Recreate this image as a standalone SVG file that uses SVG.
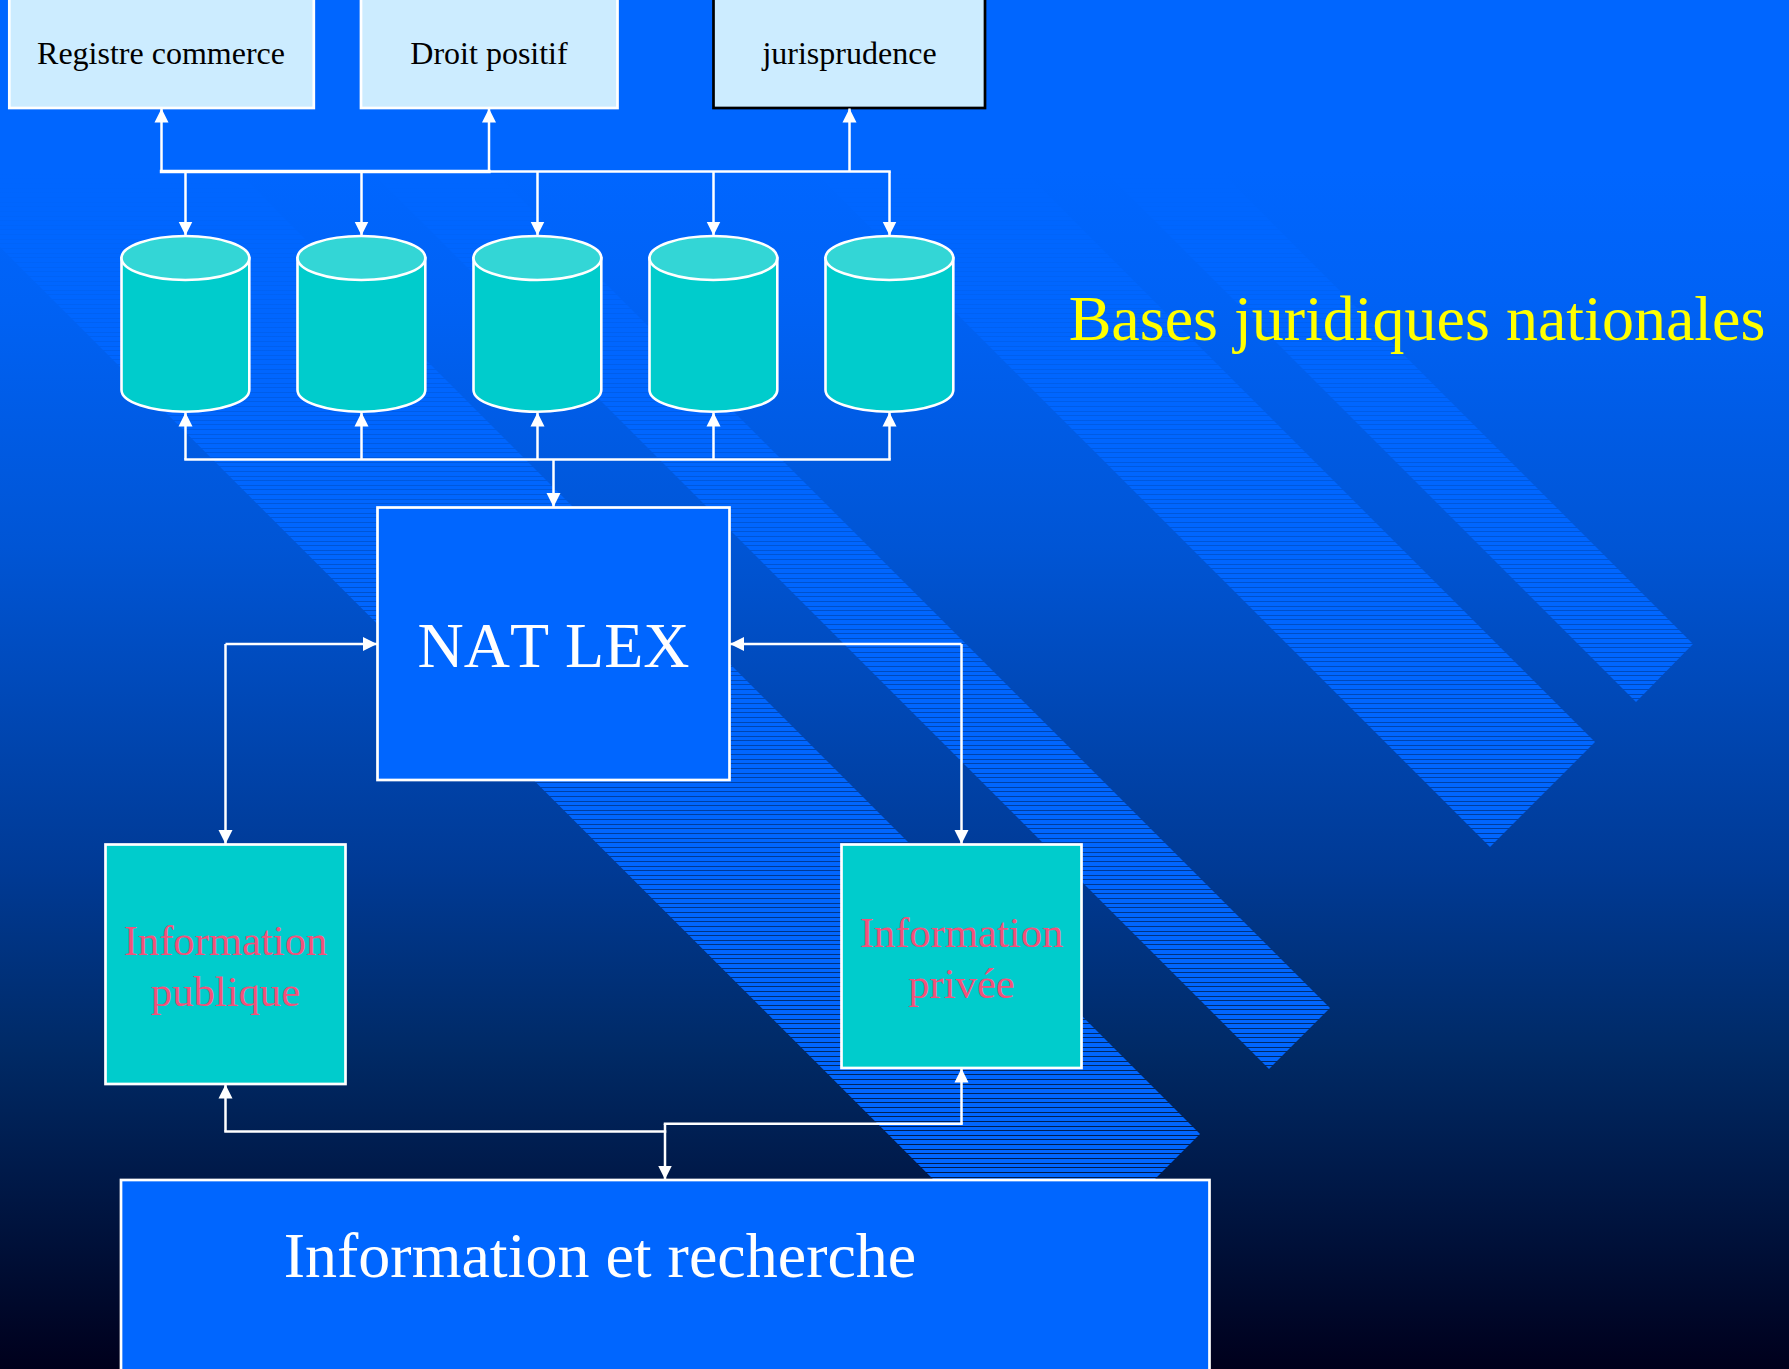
<svg xmlns="http://www.w3.org/2000/svg" width="1789" height="1369" viewBox="0 0 1789 1369">
<defs>
<linearGradient id="bg" gradientUnits="userSpaceOnUse" x1="0" y1="0" x2="0" y2="1369"><stop offset="0" stop-color="#0066ff"/><stop offset="0.125" stop-color="#0066ff"/><stop offset="0.22" stop-color="#0062f5"/><stop offset="0.4" stop-color="#0055d5"/><stop offset="0.635" stop-color="#003a95"/><stop offset="0.767" stop-color="#002a66"/><stop offset="0.855" stop-color="#001a4a"/><stop offset="1" stop-color="#00001c"/></linearGradient>
<pattern id="stripes" patternUnits="userSpaceOnUse" x="0" y="2" width="10" height="65"><path fill="#0066ff" shape-rendering="crispEdges" d="M0 1h10v4H0zM0 6h10v3H0zM0 10h10v4H0zM0 15h10v4H0zM0 20h10v3H0zM0 24h10v4H0zM0 29h10v3H0zM0 33h10v4H0zM0 38h10v4H0zM0 43h10v3H0zM0 47h10v4H0zM0 52h10v4H0zM0 57h10v3H0zM0 61h10v4H0z"/></pattern>
<marker id="ah" markerUnits="userSpaceOnUse" markerWidth="15" markerHeight="15" refX="14" refY="7.5" orient="auto"><path d="M0 0.500L14 7.500L0 14.500Z" fill="#fff"/></marker>
</defs>
<style>
.serif{font-family:"Liberation Serif","Times New Roman",serif;text-anchor:middle;font-kerning:none}
.src{fill:#ccecff;stroke:#fff;stroke-width:2.7}
.wbox{stroke:#fff;stroke-width:2.7}
.conn{fill:none;stroke:#fff;stroke-width:2.5;stroke-linecap:square}
.arr{marker-end:url(#ah);stroke-linecap:butt}
.cyl{fill:#00cccc;stroke:#fff;stroke-width:2.6}
.cap{fill:#33d6d6;stroke:#fff;stroke-width:2.6}
.t32{font-size:32px;fill:#000}
.t64{font-size:64px;fill:#fff}
.t43{font-size:42.67px;fill:#f2527a}
</style>
<rect width="1789" height="1369" fill="url(#bg)"/>
<g id="bands" fill="url(#stripes)">
<polygon points="1049,0 1693,644 1636,702 934,0"/>
<polygon points="853,0 1595,742 1490,847 643,0"/>
<polygon points="322,0 1330,1008 1269,1069 200,0"/>
<polygon points="66,0 1200,1134 1044,1290 0,247 0,0"/>
</g>
<g id="registre"><rect class="src" x="9.300" y="-10" width="304.500" height="118"/><text class="serif t32" x="161" y="63.500">Registre commerce</text></g>
<g id="droit"><rect class="src" x="361" y="-10" width="256.500" height="118"/><text class="serif t32" x="489" y="63.500">Droit positif</text></g>
<g id="jurisprudence"><rect class="src" style="stroke:#000" x="713.500" y="-10" width="271.500" height="118"/><text class="serif t32" x="849.500" y="63.500">jurisprudence</text></g>
<g id="cyl1"><path class="cyl" d="M121.500 258V390C121.500 402 150 411.700 185.400 411.700S249.300 402 249.300 390V258Z"/><ellipse class="cap" cx="185.400" cy="258" rx="63.900" ry="22"/></g>
<g id="cyl2"><path class="cyl" d="M297.500 258V390C297.500 402 326 411.700 361.400 411.700S425.300 402 425.300 390V258Z"/><ellipse class="cap" cx="361.400" cy="258" rx="63.900" ry="22"/></g>
<g id="cyl3"><path class="cyl" d="M473.500 258V390C473.500 402 502 411.700 537.400 411.700S601.300 402 601.300 390V258Z"/><ellipse class="cap" cx="537.400" cy="258" rx="63.900" ry="22"/></g>
<g id="cyl4"><path class="cyl" d="M649.500 258V390C649.500 402 678 411.700 713.400 411.700S777.300 402 777.300 390V258Z"/><ellipse class="cap" cx="713.400" cy="258" rx="63.900" ry="22"/></g>
<g id="cyl5"><path class="cyl" d="M825.500 258V390C825.500 402 854 411.700 889.400 411.700S953.300 402 953.300 390V258Z"/><ellipse class="cap" cx="889.400" cy="258" rx="63.900" ry="22"/></g>
<text id="title" class="serif" x="1417" y="340" font-size="64" fill="#ffff00">Bases juridiques nationales</text>
<g id="natlex"><rect class="wbox" fill="#0066ff" x="377.500" y="507.500" width="352" height="272.500"/><text class="serif t64" x="553.500" y="667">NAT LEX</text></g>
<g id="pub"><rect class="wbox" fill="#00cccc" x="105.500" y="844.500" width="240" height="239.500"/><text class="serif t43" x="225.500" y="955">Information</text><text class="serif t43" x="225.500" y="1006">publique</text></g>
<g id="priv"><rect class="wbox" fill="#00cccc" x="841.500" y="844.500" width="240" height="223.500"/><text class="serif t43" x="961.500" y="947">Information</text><text class="serif t43" x="961.500" y="998">privée</text></g>
<g id="recherche"><rect class="wbox" fill="#0066ff" x="121" y="1180" width="1088.500" height="200"/><text class="serif t64" x="600" y="1277">Information et recherche</text></g>
<g id="connectors">
<path class="conn" style="stroke-width:3.4" d="M161.500 171.500H489"/>
<path class="conn" d="M489 171.500H889.500"/>
<path class="conn arr" d="M161.500 171.500V108.500"/>
<path class="conn arr" d="M489 171.500V108.500"/>
<path class="conn arr" d="M849.500 171.500V108.500"/>
<path class="conn arr" d="M185.500 171.500V235.500"/>
<path class="conn arr" d="M361.500 171.500V235.500"/>
<path class="conn arr" d="M537.500 171.500V235.500"/>
<path class="conn arr" d="M713.500 171.500V235.500"/>
<path class="conn arr" d="M889.500 171.500V235.500"/>
<path class="conn" d="M185.500 459.500H889.500"/>
<path class="conn arr" d="M185.500 459.500V412.500"/>
<path class="conn arr" d="M361.500 459.500V412.500"/>
<path class="conn arr" d="M537.500 459.500V412.500"/>
<path class="conn arr" d="M713.500 459.500V412.500"/>
<path class="conn arr" d="M889.500 459.500V412.500"/>
<path class="conn arr" d="M553.500 459.500V507"/>
<path class="conn arr" d="M225.500 644H377"/>
<path class="conn arr" d="M225.500 644V844"/>
<path class="conn arr" d="M961.500 644H730"/>
<path class="conn arr" d="M961.500 644V844"/>
<path class="conn arr" d="M225.500 1131.500V1084.500"/>
<path class="conn" d="M225.500 1131.500H665"/>
<path class="conn" d="M665 1123.700H961.500"/>
<path class="conn arr" d="M961.500 1123.700V1068.500"/>
<path class="conn arr" d="M665 1123.700V1179.500"/>
</g>
</svg>
